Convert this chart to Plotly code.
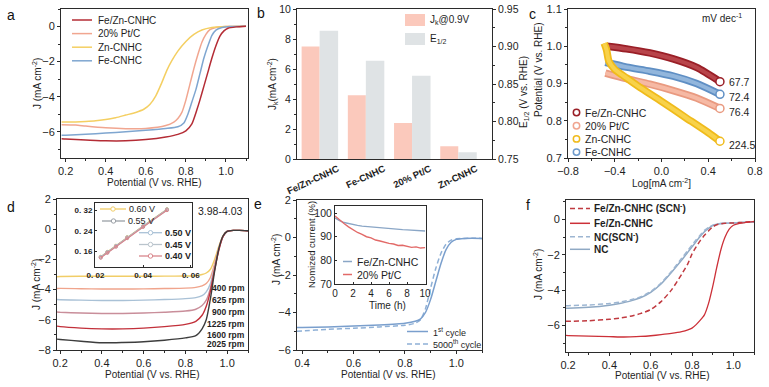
import plotly.graph_objects as go

W, H = 769, 387
FONT = "Liberation Sans, Arial, sans-serif"
AX = "#2b2b2b"
TXT = "#1e1e1e"

# ---------------- data ----------------
# (a) ORR polarization curves
a_fezn_v = [0.18, 0.2, 0.3, 0.4, 0.5, 0.6, 0.7, 0.76, 0.8, 0.83, 0.855, 0.87, 0.89, 0.91, 0.93, 0.95, 0.97, 0.99, 1.01, 1.05, 1.1]
a_fezn_j = [-6.4, -6.42, -6.47, -6.52, -6.52, -6.45, -6.3, -6.15, -5.95, -5.55, -4.75, -4.2, -3.4, -2.6, -1.8, -1.1, -0.55, -0.25, -0.1, -0.02, 0.02]
a_ptc_v = [0.18, 0.25, 0.3, 0.4, 0.5, 0.6, 0.7, 0.74, 0.76, 0.78, 0.80, 0.82, 0.84, 0.86, 0.88, 0.9, 0.92, 0.95, 1.0, 1.1]
a_ptc_j = [-5.6, -5.62, -5.68, -5.78, -5.83, -5.82, -5.65, -5.45, -5.25, -4.9, -4.2, -3.3, -2.4, -1.6, -0.9, -0.45, -0.18, -0.05, 0.0, 0.02]
a_zn_v = [0.18, 0.25, 0.3, 0.35, 0.4, 0.45, 0.5, 0.55, 0.59, 0.62, 0.65, 0.68, 0.705, 0.73, 0.76, 0.8, 0.84, 0.88, 0.93, 1.0, 1.1]
a_zn_j = [-5.45, -5.44, -5.42, -5.38, -5.3, -5.2, -5.05, -4.9, -4.72, -4.45, -3.95, -3.2, -2.5, -1.95, -1.4, -0.85, -0.45, -0.2, -0.06, 0.0, 0.02]
a_fe_v = [0.18, 0.2, 0.3, 0.4, 0.5, 0.6, 0.7, 0.76, 0.79, 0.81, 0.83, 0.85, 0.87, 0.89, 0.91, 0.93, 0.95, 0.98, 1.02, 1.1]
a_fe_j = [-6.2, -6.2, -6.15, -6.08, -6.0, -5.92, -5.82, -5.72, -5.5, -5.0, -4.3, -3.6, -2.7, -1.8, -1.1, -0.5, -0.2, -0.06, 0.0, 0.02]

# (b) kinetic current and half-wave potential
b_cats = ["Fe/Zn-CNHC", "Fe-CNHC", "20% Pt/C", "Zn-CNHC"]
b_jk = [7.5, 4.25, 2.4, 0.85]
b_e12 = [0.921, 0.881, 0.861, 0.759]

# (c) Tafel plots
c_fezn_x = [-0.47, -0.3, -0.1, 0.1, 0.3, 0.5]
c_fezn_y = [1.0, 0.993, 0.982, 0.966, 0.943, 0.905]
c_ptc_x = [-0.48, -0.3, -0.1, 0.1, 0.3, 0.5]
c_ptc_y = [0.928, 0.913, 0.898, 0.881, 0.861, 0.833]
c_zn_x = [-0.49, -0.47, -0.45, -0.4, -0.3, -0.2, 0.0, 0.2, 0.4, 0.5]
c_zn_y = [1.008, 0.99, 0.96, 0.938, 0.915, 0.893, 0.852, 0.81, 0.768, 0.745]
c_fe_x = [-0.48, -0.3, -0.1, 0.1, 0.3, 0.5]
c_fe_y = [0.957, 0.944, 0.933, 0.92, 0.9, 0.871]
c_slopes = ["67.7", "72.4", "76.4", "224.5"]

# (d) LSV at different rotation rates
d_pot = [0.185, 0.2, 0.3, 0.4, 0.5, 0.6, 0.7, 0.8, 0.85, 0.88, 0.9, 0.92, 0.94, 0.96, 0.98, 1.0, 1.03, 1.06, 1.1]
d_400 = [-3.15, -3.13, -3.12, -3.12, -3.12, -3.12, -3.11, -3.1, -3.08, -3.0, -2.9, -2.65, -2.0, -1.15, -0.45, -0.15, -0.08, -0.08, -0.1]
d_625 = [-3.93, -3.92, -3.94, -3.96, -3.96, -3.95, -3.93, -3.9, -3.85, -3.75, -3.6, -3.2, -2.3, -1.25, -0.48, -0.15, -0.08, -0.08, -0.1]
d_900 = [-4.66, -4.67, -4.7, -4.72, -4.72, -4.7, -4.66, -4.6, -4.53, -4.4, -4.15, -3.6, -2.5, -1.3, -0.5, -0.15, -0.08, -0.08, -0.1]
d_1225 = [-5.48, -5.5, -5.55, -5.58, -5.58, -5.55, -5.5, -5.42, -5.3, -5.05, -4.7, -3.9, -2.6, -1.35, -0.5, -0.15, -0.08, -0.08, -0.1]
d_1600 = [-6.42, -6.45, -6.55, -6.6, -6.6, -6.55, -6.45, -6.3, -6.1, -5.7, -5.1, -4.1, -2.7, -1.4, -0.5, -0.15, -0.08, -0.08, -0.1]
d_2025 = [-7.28, -7.3, -7.42, -7.52, -7.5, -7.45, -7.35, -7.2, -7.05, -6.6, -6.0, -4.6, -2.8, -1.3, -0.45, -0.15, -0.08, -0.08, -0.1]
d_labels = ["400 rpm", "625 rpm", "900 rpm", "1225 rpm", "1600 rpm", "2025 rpm"]
# (d) inset: K-L plots
d_kl_x = [0.0222, 0.0250, 0.0286, 0.0333, 0.0400, 0.0500]
d_kl_060 = [0.139, 0.158, 0.182, 0.215, 0.259, 0.324]
d_kl_055 = [0.138, 0.157, 0.181, 0.214, 0.258, 0.323]
d_kl_050 = [0.137, 0.156, 0.180, 0.213, 0.257, 0.322]
d_kl_045 = [0.136, 0.155, 0.179, 0.212, 0.256, 0.321]
d_kl_040 = [0.135, 0.154, 0.178, 0.211, 0.255, 0.320]
d_kl_ticks = [0.02, 0.04, 0.06]
d_kl_ticktext = ["0. 02", "0. 04", "0. 06"]
d_kl_yticks = [0.16, 0.24, 0.32]
d_kl_yticktext = ["0. 16", "0. 24", "0. 32"]

# (e) durability
e_pot = [0.38, 0.4, 0.5, 0.6, 0.7, 0.8, 0.84, 0.86, 0.88, 0.9, 0.92, 0.94, 0.96, 0.98, 1.0, 1.03, 1.06, 1.1]
e_first = [-4.8, -4.8, -4.77, -4.72, -4.66, -4.57, -4.47, -4.35, -4.0, -3.3, -2.35, -1.4, -0.65, -0.25, -0.1, -0.05, -0.04, -0.05]
e_5000 = [-5.0, -4.98, -4.9, -4.84, -4.77, -4.68, -4.57, -4.4, -3.8, -2.7, -1.65, -0.85, -0.35, -0.14, -0.07, -0.05, -0.04, -0.05]
# (e) inset: chronoamperometry
e_time = [0, 0.5, 1, 1.5, 2, 2.5, 3, 3.5, 4, 4.5, 5, 5.5, 6, 6.5, 7, 7.5, 8, 8.5, 9, 9.5, 10]
e_cur_fezn = [98.0, 96.8, 96.0, 95.5, 95.1, 94.8, 94.5, 94.3, 94.1, 93.9, 93.7, 93.6, 93.5, 93.3, 93.2, 93.0, 92.9, 92.8, 92.7, 92.5, 92.4]
e_cur_ptc = [98.8, 97.0, 95.6, 94.2, 93.0, 91.8, 91.0, 90.0, 89.5, 88.6, 88.2, 87.6, 87.2, 86.9, 86.3, 86.4, 85.8, 85.5, 85.7, 85.2, 85.4]

# (f) SCN- poisoning
f_pot = [0.19, 0.2, 0.3, 0.4, 0.45, 0.5, 0.55, 0.6, 0.65, 0.7, 0.75, 0.78, 0.8, 0.82, 0.84, 0.86, 0.88, 0.9, 0.92, 0.94, 0.96, 0.98, 1.0, 1.03, 1.06, 1.1]
f_fezn = [-6.56, -6.57, -6.6, -6.63, -6.65, -6.64, -6.62, -6.58, -6.52, -6.45, -6.35, -6.25, -6.15, -5.95, -5.7, -5.4, -4.75, -3.8, -2.7, -1.7, -1.0, -0.55, -0.33, -0.22, -0.17, -0.12]
f_fezn_scn = [-5.76, -5.76, -5.73, -5.65, -5.58, -5.48, -5.33, -5.1, -4.65, -4.0, -3.1, -2.5, -1.95, -1.55, -1.2, -0.9, -0.65, -0.42, -0.3, -0.25, -0.22, -0.2, -0.2, -0.18, -0.15, -0.12]
f_nc = [-5.02, -5.02, -4.97, -4.85, -4.75, -4.62, -4.43, -4.12, -3.65, -3.0, -2.3, -1.85, -1.55, -1.25, -0.95, -0.7, -0.5, -0.35, -0.27, -0.23, -0.22, -0.21, -0.2, -0.18, -0.16, -0.15]
f_nc_scn = [-4.88, -4.88, -4.84, -4.76, -4.68, -4.56, -4.38, -4.08, -3.6, -2.95, -2.2, -1.75, -1.45, -1.15, -0.88, -0.62, -0.45, -0.32, -0.26, -0.23, -0.22, -0.21, -0.2, -0.18, -0.16, -0.15]

# ---------------- colours ----------------
C_RED = "#b42c35"
C_SALMON = "#f1a690"
C_YELLOW = "#f4cf62"
C_BLUE = "#7fa6d0"
C_PINK = "#fbc9bc"
C_GRAY = "#dfe3e5"


def X(px):
    return px / W


def Y(py):
    return 1 - py / H


def dom_x(a, b):
    return [X(a), X(b)]


def dom_y(top, bottom):
    return [Y(bottom), Y(top)]


def axis(domain, rng, anchor, size=11, **kw):
    d = dict(domain=domain, range=rng, anchor=anchor, showline=True, linecolor=AX, linewidth=1,
             mirror=True, ticks="outside", ticklen=3, tickwidth=1, tickcolor=AX,
             showgrid=False, zeroline=False, fixedrange=True, automargin=False,
             ticklabeloverflow="allow", layer="above traces",
             tickfont=dict(family=FONT, size=size, color=TXT))
    d.update(kw)
    return d


fig = go.Figure()
shapes = []
annots = []


def text(x, y, s, size=10, anchor="left", color=TXT, angle=0, bold=False):
    if bold:
        s = "<b>" + s + "</b>"
    annots.append(dict(x=X(x), y=Y(y), xref="paper", yref="paper", text=s, showarrow=False,
                       xanchor=anchor, yanchor="middle", textangle=angle,
                       font=dict(family=FONT, size=size, color=color)))


def leg_line(x0, x1, y, color, dash="solid", width=1.5):
    shapes.append(dict(type="line", xref="paper", yref="paper", x0=X(x0), x1=X(x1), y0=Y(y), y1=Y(y),
                       line=dict(color=color, width=width, dash=dash)))


def leg_circle(x, y, r, color, width=1.5):
    shapes.append(dict(type="circle", xref="paper", yref="paper", x0=X(x - r), x1=X(x + r),
                       y0=Y(y + r), y1=Y(y - r), line=dict(color=color, width=width), fillcolor="white"))


def leg_rect(x0, x1, y0, y1, color):
    shapes.append(dict(type="rect", xref="paper", yref="paper", x0=X(x0), x1=X(x1), y0=Y(y1), y1=Y(y0),
                       line=dict(width=0), fillcolor=color))


def line(x, y, xa, ya, color, width=1.5, dash="solid", smooth=0.6):
    fig.add_trace(go.Scatter(x=x, y=y, xaxis=xa, yaxis=ya, mode="lines",
                             line=dict(color=color, width=width, dash=dash, shape="spline", smoothing=smooth),
                             showlegend=False, hoverinfo="skip"))


# ---------------- panel a (x / y) ----------------
line(a_ptc_v, a_ptc_j, "x", "y", C_SALMON)
line(a_zn_v, a_zn_j, "x", "y", C_YELLOW)
line(a_fe_v, a_fe_j, "x", "y", C_BLUE)
line(a_fezn_v, a_fezn_j, "x", "y", C_RED)
a_leg = [("Fe/Zn-CNHC", C_RED), ("20% Pt/C", C_SALMON), ("Zn-CNHC", C_YELLOW), ("Fe-CNHC", C_BLUE)]
for i, (nm, col) in enumerate(a_leg):
    yy = 20 + i * 13.6
    leg_line(72, 92, yy, col)
    text(96, yy, nm, size=10)

# ---------------- panel b (x2 / y2, y3) ----------------
fig.add_trace(go.Bar(x=b_cats, y=b_jk, xaxis="x2", yaxis="y2", marker=dict(color=C_PINK, line=dict(width=0)),
                     width=0.39, offset=-0.39, showlegend=False, hoverinfo="skip"))
fig.add_trace(go.Bar(x=b_cats, y=b_e12, xaxis="x2", yaxis="y3", marker=dict(color=C_GRAY, line=dict(width=0)),
                     width=0.40, offset=0.0, showlegend=False, hoverinfo="skip"))
leg_rect(405, 425, 14, 26, C_PINK)
leg_rect(405, 425, 33, 45, C_GRAY)
text(428, 20, "J<sub>k</sub>@0.9V", size=10)
text(428, 39, "E<sub>1/2</sub>", size=10)

# ---------------- panel c (x3 / y4) ----------------
c_series = [(c_ptc_x, c_ptc_y, "#e99a80", "#f6b9a4"),
            (c_fe_x, c_fe_y, "#5f8fc4", "#92b6dc"),
            (c_fezn_x, c_fezn_y, "#9a1f27", "#b8444a"),
            (c_zn_x, c_zn_y, "#f0bb1c", "#f8d24a")]
for xs, ys, dark, light in c_series:
    fig.add_trace(go.Scatter(x=xs, y=ys, xaxis="x3", yaxis="y4", mode="lines",
                             line=dict(color=dark, width=7.5, shape="spline", smoothing=0.7),
                             showlegend=False, hoverinfo="skip"))
    fig.add_trace(go.Scatter(x=xs, y=ys, xaxis="x3", yaxis="y4", mode="lines",
                             line=dict(color=light, width=4, shape="spline", smoothing=0.7),
                             showlegend=False, hoverinfo="skip"))
    fig.add_trace(go.Scatter(x=xs[-1:], y=ys[-1:], xaxis="x3", yaxis="y4", mode="markers",
                             marker=dict(symbol="circle", size=8, color="white", line=dict(color=dark, width=1.5)),
                             showlegend=False, hoverinfo="skip"))
c_ends = [(c_fezn_x, c_fezn_y, 0), (c_fe_x, c_fe_y, -3), (c_ptc_x, c_ptc_y, -4), (c_zn_x, c_zn_y, -4)]
for (xs, ys, ysh), lab in zip(c_ends, c_slopes):
    annots.append(dict(x=xs[-1], y=ys[-1], xref="x3", yref="y4", text=lab, showarrow=False,
                       xanchor="left", yanchor="middle", xshift=7, yshift=ysh,
                       font=dict(family=FONT, size=10.5, color=TXT)))
text(744, 18, "mV dec<sup>-1</sup>", size=10, anchor="right")
c_leg = [("Fe/Zn-CNHC", "#9a1f27"), ("20% Pt/C", "#f0a590"), ("Zn-CNHC", "#f0bb1c"), ("Fe-CNHC", "#6f9bcc")]
for i, (nm, col) in enumerate(c_leg):
    yy = 112.5 + i * 13.2
    leg_circle(576.5, yy, 3.2, col)
    text(583, yy, nm, size=10.5)

# ---------------- panel d (x4 / y5) ----------------
d_curves = [(d_400, "#f1cd67"), (d_625, "#f0a48c"), (d_900, "#a9c1d6"), (d_1225, "#c98e9a"),
            (d_1600, "#c2303a"), (d_2025, "#3d3d3d")]
for ys, col in d_curves:
    line(d_pot, ys, "x4", "y5", col, width=1.4)
for i, lab in enumerate(d_labels):
    yy = [287.5, 300, 312.3, 323.5, 335, 343.5][i]
    text(247, yy, lab, size=8.5, anchor="right", bold=True)
text(220, 211, "3.98-4.03", size=10.5, anchor="center")

# ---------------- panel e (x5 / y6) ----------------
line(e_pot, e_5000, "x5", "y6", "#8fb0d6", width=1.5, dash="5px,3px")
line(e_pot, e_first, "x5", "y6", "#7a9fcd", width=1.5)
leg_line(407, 428, 331.5, "#7a9fcd")
leg_line(407, 428, 344, "#8fb0d6", dash="5px,3px")
text(431, 331.5, "1<sup>st</sup> cycle", size=9)
text(431, 344, "5000<sup>th</sup> cycle", size=9)

# ---------------- panel f (x6 / y7) ----------------
line(f_pot, f_nc, "x6", "y7", "#8fa9c4", width=1.5)
line(f_pot, f_nc_scn, "x6", "y7", "#9db6d2", width=1.5, dash="5px,3px")
line(f_pot, f_fezn_scn, "x6", "y7", "#c03a40", width=1.5, dash="5px,3px")
line(f_pot, f_fezn, "x6", "y7", "#cc3038", width=1.3)
f_leg = [("Fe/Zn-CNHC (SCN<sup>-</sup>)", "#c03a40", "5px,3px"), ("Fe/Zn-CNHC", "#cc3038", "solid"),
         ("NC(SCN<sup>-</sup>)", "#9db6d2", "5px,3px"), ("NC", "#8fa9c4", "solid")]
for i, (nm, col, dsh) in enumerate(f_leg):
    yy = [208.5, 223.3, 236.7, 249.3][i]
    leg_line(570, 590, yy, col, dash=dsh)
    text(592, yy, nm, size=10, bold=True)

# ---------------- insets ----------------
d_kl = [(d_kl_060, "#f1cd67"), (d_kl_055, "#9aa0a6"), (d_kl_050, "#a9c1d6"), (d_kl_045, "#b9c4cc"), (d_kl_040, "#d9868c")]
for ys, col in d_kl:
    fig.add_trace(go.Scatter(x=d_kl_x, y=ys, xaxis="x7", yaxis="y8", mode="lines+markers",
                             line=dict(color=col, width=1.2),
                             marker=dict(symbol="circle-open", size=3, color=col),
                             showlegend=False, hoverinfo="skip"))
d_kl_leg = [("0.60 V", "#f1cd67", 100, 126, 209, False), ("0.55 V", "#9aa0a6", 102, 125, 221, False),
            ("0.50 V", "#a9c1d6", 139, 162, 232.7, True), ("0.45 V", "#b9c4cc", 139, 162, 244.5, True),
            ("0.40 V", "#d9868c", 139, 162, 256, True)]
for nm, col, x0, x1, yy, bb in d_kl_leg:
    leg_line(x0, x1, yy, col, width=1.3)
    leg_circle((x0 + x1) / 2, yy, 2.2, col, width=1)
    text(x1 + 1, yy, nm, size=9, bold=bb)

fig.add_trace(go.Scatter(x=e_time, y=e_cur_fezn, xaxis="x8", yaxis="y9", mode="lines",
                         line=dict(color="#8aa6c6", width=1.4), showlegend=False, hoverinfo="skip"))
fig.add_trace(go.Scatter(x=e_time, y=e_cur_ptc, xaxis="x8", yaxis="y9", mode="lines",
                         line=dict(color="#e26a68", width=1.4), showlegend=False, hoverinfo="skip"))
leg_line(343, 352, 261.5, "#8aa6c6")
leg_line(343, 352, 274.5, "#e26a68")
text(355, 261.5, "Fe/Zn-CNHC", size=10.5)
text(355, 274.5, "20% Pt/C", size=10.5)
text(311, 245, "Nomized current (%)", size=9.5, anchor="center", angle=-90)
text(387, 305.5, "Time (h)", size=10, anchor="center")

# ---------------- axis titles & panel letters ----------------
J_TITLE = "J (mA cm<sup>-2</sup>)"
POT = "Potential (V vs. RHE)"
text(154, 183, POT, size=10, anchor="center")
text(37, 84, J_TITLE, size=10, anchor="center", angle=-90)
text(273, 84, "J<sub>k</sub>(mA cm<sup>-2</sup>)", size=10, anchor="center", angle=-90)
text(524, 92, "E<sub>1/2</sub> (V vs. RHE)", size=10, anchor="center", angle=-90)
text(539, 70, POT, size=10, anchor="center", angle=-90)
text(661, 183, "Log[mA cm<sup>-2</sup>]", size=10, anchor="center")
text(152, 374, POT, size=10, anchor="center")
text(36, 285, J_TITLE, size=10, anchor="center", angle=-90)
text(388, 374, POT, size=10, anchor="center")
text(276, 260, J_TITLE, size=10, anchor="center", angle=-90)
text(662, 375, POT, size=10, anchor="center")
text(538, 275, J_TITLE, size=10, anchor="center", angle=-90)
for lt, x, y in [("a", 11, 15), ("b", 261, 13), ("c", 532, 14), ("d", 11, 207), ("e", 258, 204), ("f", 528, 205)]:
    text(x, y, lt, size=14, anchor="center", color="#111")

# ---------------- layout ----------------
lay = dict(
    width=W, height=H, margin=dict(l=0, r=0, t=0, b=0), autosize=False,
    paper_bgcolor="white", plot_bgcolor="rgba(0,0,0,0)", showlegend=False,
    font=dict(family=FONT, size=10, color=TXT),
    shapes=shapes, annotations=annots, barmode="overlay",
)
minor2 = lambda d: dict(ticks="outside", ticklen=2, tickcolor=AX, dtick=d)
# a
lay["xaxis"] = axis(dom_x(61, 248), [0.177, 1.11], "y", dtick=0.2, tick0=0.2, tickformat=".1f", minor=minor2(0.1))
lay["yaxis"] = axis(dom_y(9, 158), [-7.5, 1.0], "x", dtick=2, tick0=0, minor=minor2(1))
# b
lay["xaxis2"] = axis(dom_x(297, 492), [-0.49, 3.73], "y2", type="category", ticks="",
                     tickangle=-25, ticklabelshift=18,
                     tickfont=dict(family=FONT, size=9.5, color=TXT, weight="bold"))
lay["yaxis2"] = axis(dom_y(9, 159), [0, 10], "x2", size=10.5, dtick=2, mirror=False, minor=minor2(1))
lay["yaxis3"] = axis(dom_y(9, 159), [0.75, 0.95], "x2", size=10.5, overlaying="y2", side="right", dtick=0.05,
                     tickformat=".2f", mirror=False, minor=minor2(0.025))
# c
lay["xaxis3"] = axis(dom_x(568, 755), [-0.8, 0.8], "y4", dtick=0.4, tick0=-0.8, tickformat=".1f", minor=minor2(0.2))
lay["yaxis4"] = axis(dom_y(9, 158), [0.7, 1.1], "x3", dtick=0.1, tickformat=".1f", minor=minor2(0.05))
# d
lay["xaxis4"] = axis(dom_x(57, 248), [0.185, 1.1], "y5", dtick=0.2, tick0=0.2, tickformat=".1f", minor=minor2(0.1))
lay["yaxis5"] = axis(dom_y(199, 350), [-8, 2], "x4", dtick=2, tick0=0, minor=minor2(1))
# e
lay["xaxis5"] = axis(dom_x(297, 482), [0.38, 1.1], "y6", dtick=0.2, tick0=0.4, tickformat=".1f", minor=minor2(0.1))
lay["yaxis6"] = axis(dom_y(200, 350), [-6, 2], "x5", dtick=2, tick0=0, minor=minor2(1))
# f
lay["xaxis6"] = axis(dom_x(566, 754), [0.19, 1.1], "y7", dtick=0.2, tick0=0.2, tickformat=".1f", minor=minor2(0.1))
lay["yaxis7"] = axis(dom_y(200, 352), [-7.5, 1.1], "x6", dtick=2, tick0=0, minor=minor2(1))
# d inset
lay["xaxis7"] = axis(dom_x(95, 192), [0.0198, 0.0605], "y8", tickvals=d_kl_ticks, ticktext=d_kl_ticktext,
                     tickfont=dict(family=FONT, size=8, color=TXT, weight="bold"), ticks="inside", ticklen=2)
lay["yaxis8"] = axis(dom_y(203, 267), [0.099, 0.348], "x7", tickvals=d_kl_yticks, ticktext=d_kl_yticktext,
                     tickfont=dict(family=FONT, size=8, color=TXT, weight="bold"), ticks="inside", ticklen=2)
# e inset
lay["xaxis8"] = axis(dom_x(335, 426), [0, 10.1], "y9", dtick=2, size=10, ticks="inside", ticklen=2)
lay["yaxis9"] = axis(dom_y(206, 284), [70, 103], "x8", dtick=10, size=10.5, ticks="inside", ticklen=2)

fig.update_layout(**lay)
fig.write_html("out.html", config={"displayModeBar": False},
               post_script="document.body.style.margin='0px';document.body.style.overflow='hidden';")
